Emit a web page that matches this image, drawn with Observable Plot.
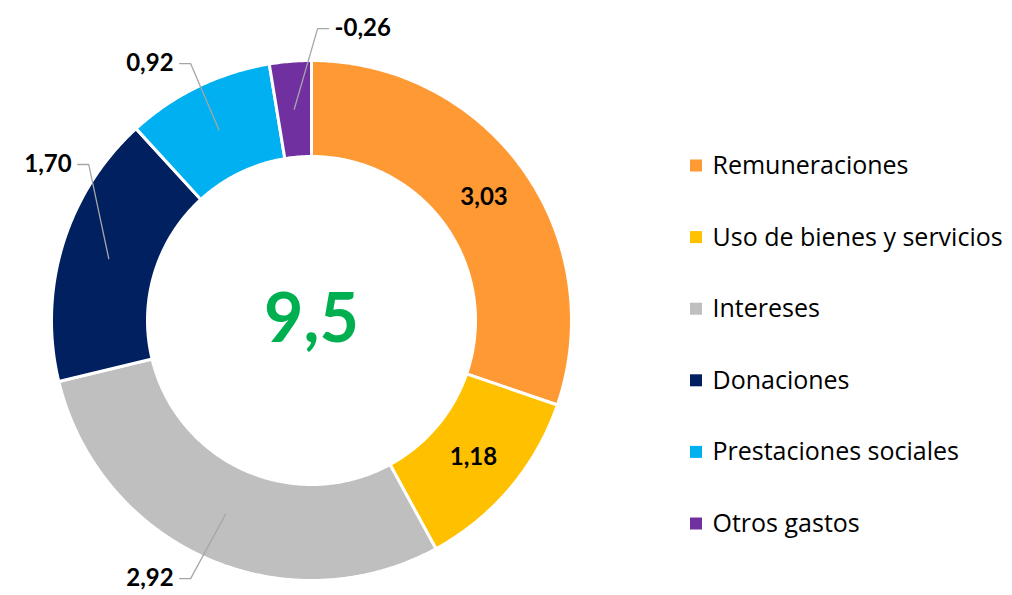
<!DOCTYPE html>
<html>
<head>
<meta charset="utf-8">
<script src="https://cdn.jsdelivr.net/npm/d3@7"></script>
<script src="https://cdn.jsdelivr.net/npm/@observablehq/plot@0.6"></script>
<style>
  html, body { margin: 0; padding: 0; background: #fff; }
  #chart svg { display: block; }
</style>
</head>
<body>
<div id="chart"></div>
<script>
// ---- data ----
const categories = ["Remuneraciones", "Uso de bienes y servicios", "Intereses", "Donaciones", "Prestaciones sociales", "Otros gastos"];
const values = [3.03, 1.18, 2.92, 1.70, 0.92, -0.26];
const colors = ["#FF9933", "#FFC000", "#BFBFBF", "#002060", "#00B0F0", "#7030A0"];
const totalColor = "#00B050";

// ---- layout ----
const W = 1012, H = 595;
const cx = 311, cy = 320, R0 = 260, R1 = 164, Rmid = 212;
const FONT = "Lato, 'Open Sans', sans-serif";
const LEGEND_FONT = "'Open Sans', sans-serif";
// label placement: inside, or outside with elbow point (angle deg, radius px) and side
const labelLayout = [
  {mode: "in"},
  {mode: "in"},
  {mode: "out", ang: 205.1, rad: 285, side: -1},
  {mode: "out", ang: 305, rad: 272, side: -1},
  {mode: "out", ang: 334.8, rad: 284, side: -1},
  {mode: "out", ang: 1.2, rad: 292, side: 1}
];
const legendX = 690, legendY0 = 165.5, legendStep = 71.6;

const fmt = v => v.toFixed(2).replace(".", ",");
const total = d3.sum(values);
const absTotal = d3.sum(values, Math.abs);

let acc = 0;
const slices = categories.map((name, i) => {
  const a0 = acc / absTotal * 2 * Math.PI;
  acc += Math.abs(values[i]);
  const a1 = acc / absTotal * 2 * Math.PI;
  return {name, value: values[i], a0, a1, mid: (a0 + a1) / 2, i};
});
const pt = (a, r) => [cx + r * Math.sin(a), cy - r * Math.cos(a)];

const ring = slices.flatMap(s => {
  const n = Math.max(2, Math.ceil((s.a1 - s.a0) / (Math.PI / 360)));
  const pts = [];
  for (let k = 0; k <= n; k++) pts.push(pt(s.a0 + (s.a1 - s.a0) * k / n, R0));
  for (let k = n; k >= 0; k--) pts.push(pt(s.a0 + (s.a1 - s.a0) * k / n, R1));
  return pts.map(([x, y]) => ({name: s.name, x, y}));
});

const inLabels = [], outLabelsStart = [], outLabelsEnd = [], leaders = [];
slices.forEach((s, i) => {
  const L = labelLayout[i];
  if (L.mode === "in") {
    const [x, y] = pt(s.mid, Rmid);
    inLabels.push({x, y, text: fmt(s.value)});
  } else {
    const start = pt(s.mid, Rmid);
    const elbow = pt(L.ang * Math.PI / 180, L.rad);
    const end = [elbow[0] + L.side * 11, elbow[1]];
    leaders.push({k: i, x: start[0], y: start[1]}, {k: i, x: elbow[0], y: elbow[1]}, {k: i, x: end[0], y: end[1]});
    const lab = {x: end[0] + L.side * 6, y: end[1], text: fmt(s.value)};
    (L.side > 0 ? outLabelsStart : outLabelsEnd).push(lab);
  }
});

const legend = categories.map((name, i) => ({name, y: legendY0 + i * legendStep}));

const chart = Plot.plot({
  width: W, height: H, margin: 0,
  x: {domain: [0, W], range: [0, W], axis: null},
  y: {domain: [0, H], range: [0, H], axis: null},
  color: {domain: categories, range: colors},
  style: {fontFamily: FONT, background: "#fff"},
  marks: [
    Plot.line(ring, {x: "x", y: "y", z: "name", fill: "name", stroke: "#fff", strokeWidth: 3, curve: "linear-closed"}),
    Plot.line(leaders, {x: "x", y: "y", z: "k", stroke: "#A6A6A6", strokeWidth: 1.3}),
    Plot.text(inLabels, {x: "x", y: "y", text: "text", fontSize: 24, fontWeight: "bold", fill: "#000", textAnchor: "middle", fontFamily: FONT}),
    Plot.text(outLabelsEnd, {x: "x", y: "y", text: "text", fontSize: 24, fontWeight: "bold", fill: "#000", textAnchor: "end", fontFamily: FONT}),
    Plot.text(outLabelsStart, {x: "x", y: "y", text: "text", fontSize: 24, fontWeight: "bold", fill: "#000", textAnchor: "start", fontFamily: FONT}),
    Plot.text([total], {x: () => cx, y: () => cy, text: d => d.toFixed(1).replace(".", ","), fontSize: 68, fontWeight: "bold", fill: totalColor, textAnchor: "middle", fontFamily: FONT}),
    Plot.rect(legend, {x1: () => legendX, x2: () => legendX + 12, y1: d => d.y - 6, y2: d => d.y + 6, fill: "name"}),
    Plot.text(legend, {x: () => legendX + 22, y: "y", text: "name", fontSize: 25, fill: "#000", textAnchor: "start", fontFamily: LEGEND_FONT})
  ]
});
document.getElementById("chart").appendChild(chart);
</script>
</body>
</html>
